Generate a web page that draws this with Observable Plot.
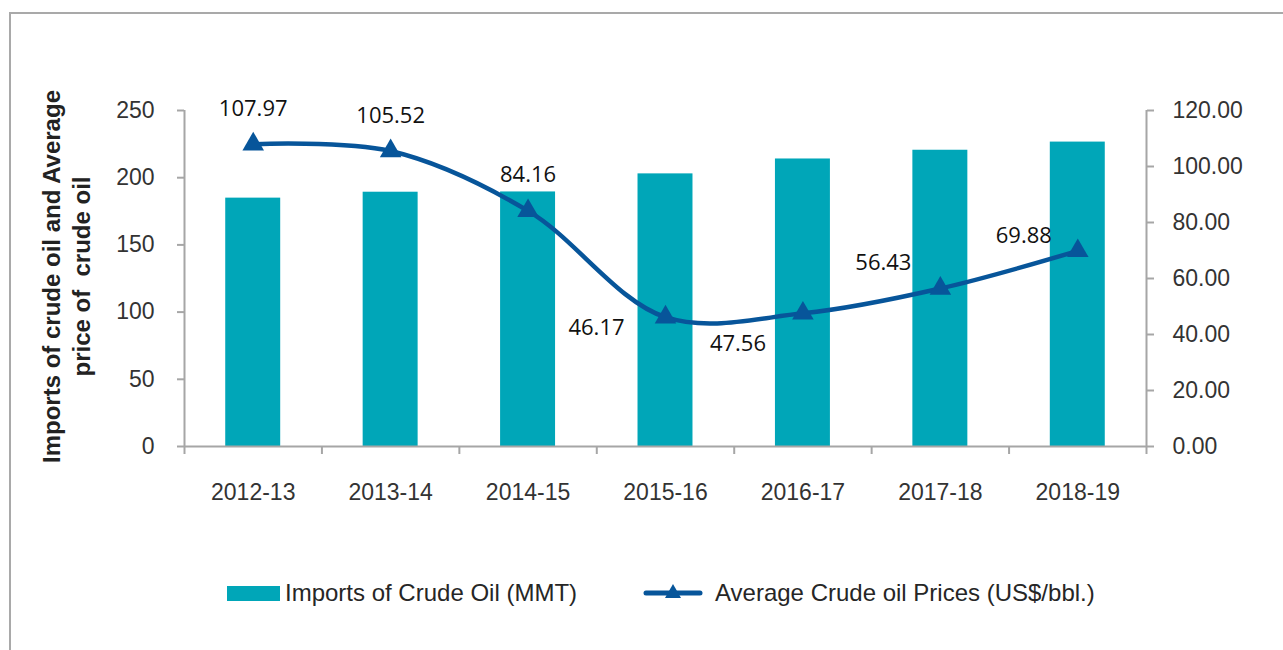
<!DOCTYPE html>
<html>
<head>
<meta charset="utf-8">
<script src="https://cdn.jsdelivr.net/npm/d3@7"></script>
<script src="https://cdn.jsdelivr.net/npm/@observablehq/plot@0.6"></script>
<style>
  body { margin: 0; background: #fff; }
  #wrap { position: relative; width: 1283px; height: 650px; overflow: hidden; background: #fff; }
  #frame { position: absolute; left: 9px; top: 12px; width: 1290px; height: 660px; border-top: 2px solid #a9a9a9; border-left: 2px solid #a9a9a9; }
  #chart { position: absolute; left: 0; top: 0; }
  .leg { position: absolute; font-family: "Liberation Sans", Arial, sans-serif; font-size: 24px; color: #262626; line-height: 30px; white-space: nowrap; }
  .sw { position: absolute; }
</style>
</head>
<body>
<div id="wrap">
  <div id="frame"></div>
  <div id="chart"></div>
  <div id="legend"></div>
</div>
<script>
const categories = ["2012-13", "2013-14", "2014-15", "2015-16", "2016-17", "2017-18", "2018-19"];
const importsMMT = [184.8, 189.2, 189.4, 202.85, 213.93, 220.43, 226.5];
const avgPrice = [107.97, 105.52, 84.16, 46.17, 47.56, 56.43, 69.88];
const leftTicks = [0, 50, 100, 150, 200, 250];
const rightTicks = [0, 20, 40, 60, 80, 100, 120];
const leftMax = 250;
const rightMax = 120;
const yTitle = "Imports of crude oil and Average\nprice of  crude oil";
const seriesNames = ["Imports of Crude Oil (MMT)", "Average Crude oil Prices (US$/bbl.)"];

const barColor = "#00a6b8";
const lineColor = "#07559a";
const axisColor = "#a6a6a6";
const k = leftMax / rightMax;

const rows = categories.map((c, i) => ({i, cat: c, imp: importsMMT[i], price: avgPrice[i], p2: avgPrice[i] * k}));

const label = (i, dx, dy) => Plot.text([rows[i]], {
  x: d => d.i + 0.5, y: "p2", text: d => d.price.toFixed(2),
  dx, dy, fontFamily: "Open Sans", fontSize: 22, fill: "#111"
});

const chart = Plot.plot({
  width: 1283,
  height: 530,
  marginLeft: 184,
  marginRight: 137,
  marginTop: 110,
  marginBottom: 84,
  x: {domain: [0, categories.length], axis: null},
  y: {domain: [0, leftMax], axis: null},
  style: {fontFamily: "Liberation Sans, Arial, sans-serif", fontSize: "23px", color: "#333", background: "transparent"},
  marks: [
    Plot.rectY(rows, {x1: d => d.i + 0.3, x2: d => d.i + 0.7, y: "imp", fill: barColor}),
    Plot.ruleX([0, categories.length], {stroke: axisColor, strokeWidth: 2}),
    Plot.ruleY([0], {stroke: axisColor, strokeWidth: 2}),
    Plot.axisY(leftTicks, {anchor: "left", tickSize: 7, tickPadding: 23, stroke: axisColor, strokeWidth: 2, fill: "#333", label: null}),
    Plot.axisY(rightTicks.map(v => v * k), {anchor: "right", tickSize: 7, tickPadding: 19, stroke: axisColor, strokeWidth: 2, fill: "#333", label: null,
      tickFormat: d => (d / k).toFixed(2)}),
    Plot.axisX(d3.range(0, categories.length + 1), {anchor: "bottom", tickSize: 8, stroke: axisColor, strokeWidth: 2, tickFormat: () => "", label: null}),
    Plot.axisX(rows.map(d => d.i + 0.5), {anchor: "bottom", tickSize: 0, tickPadding: 37, fill: "#333", label: null,
      tickFormat: d => categories[Math.floor(d)]}),
    Plot.line(rows, {x: d => d.i + 0.5, y: "p2", curve: "catmull-rom", stroke: lineColor, strokeWidth: 4.5}),
    Plot.dot(rows, {x: d => d.i + 0.5, y: "p2", symbol: "triangle", r: 8, fill: lineColor, stroke: "none"}),
    label(0, 0, -35),
    label(1, 0, -35),
    label(2, 0, -36),
    label(3, -69, 11),
    label(4, -65, 31),
    label(5, -57, -26),
    label(6, -54, -15),
    Plot.text([yTitle], {text: d => d, frameAnchor: "left", textAnchor: "middle", dx: -119, dy: -2, rotate: -90, fontSize: 24, fontWeight: "bold",
      lineHeight: 1.25, fill: "#222", fontFamily: "Liberation Sans, Arial, sans-serif"})
  ]
});
document.getElementById("chart").appendChild(chart);

const legend = document.getElementById("legend");
legend.innerHTML = `
  <div class="sw" style="left:227px;top:586px;width:53px;height:15px;background:${barColor}"></div>
  <div class="leg" style="left:285px;top:578px">${seriesNames[0]}</div>
  <svg class="sw" style="left:643px;top:581px" width="60" height="24">
    <line x1="3" y1="12" x2="57" y2="12" stroke="${lineColor}" stroke-width="5" stroke-linecap="round"/>
    <path d="M30,3 L38,17 L22,17 Z" fill="${lineColor}"/>
  </svg>
  <div class="leg" style="left:715px;top:578px">${seriesNames[1]}</div>`;
</script>
</body>
</html>
